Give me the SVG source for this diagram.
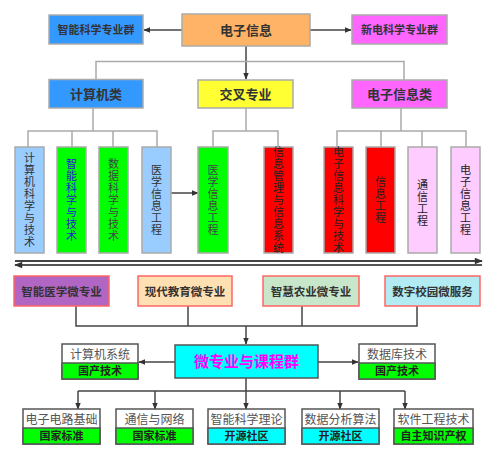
<svg xmlns="http://www.w3.org/2000/svg" width="497" height="459" viewBox="0 0 497 459">
<defs>
<marker id="ah" viewBox="0 0 10 10" refX="9" refY="5" markerWidth="7" markerHeight="7" markerUnits="userSpaceOnUse" orient="auto"><path d="M0,1 L10,5 L0,9 Z" fill="#333"/></marker>
<marker id="ahb" viewBox="0 0 10 10" refX="9" refY="5" markerWidth="10" markerHeight="8" markerUnits="userSpaceOnUse" orient="auto"><path d="M0,1 L10,5 L0,9 Z" fill="#333"/></marker>
</defs>
<style>
text{font-family:"Noto Sans CJK SC","Liberation Sans",sans-serif;}
.bx{stroke:#aaa;stroke-width:1.5;}
.mb{stroke:#ff6666;stroke-width:1.5;}
.cb{stroke:#555;stroke-width:1.5;}
.t1{font-size:11px;font-weight:bold;fill:#333;text-anchor:middle;}
.t2{font-size:13px;font-weight:bold;fill:#333;text-anchor:middle;}
.tv{font-size:11px;fill:#333;text-anchor:middle;writing-mode:vertical-rl;text-orientation:upright;letter-spacing:1px;}
.tm{font-size:11.5px;font-weight:bold;fill:#333;text-anchor:middle;}
.tc{font-size:12px;fill:#555;text-anchor:middle;}
.tl{font-size:11px;font-weight:bold;fill:#222;text-anchor:middle;}
.lg{fill:none;stroke:#aaa;stroke-width:1.5;}
.ld{fill:none;stroke:#444;stroke-width:1.5;}
</style>
<rect width="497" height="459" fill="#fff"/>
<g id="connectors">
<line class="ld" x1="182" y1="30" x2="144" y2="30" marker-end="url(#ah)"/>
<line class="ld" x1="310" y1="30" x2="351" y2="30" marker-end="url(#ah)"/>
<line class="ld" x1="246" y1="46" x2="246" y2="61"/>
<line class="ld" x1="246" y1="61" x2="246" y2="79" marker-end="url(#ah)"/>
<polyline class="lg" points="96,79 96,61.5 404,61.5 404,80"/>
<polyline class="lg" points="93,108 93,131"/>
<polyline class="lg" points="28,147 28,131 157,131 157,147"/>
<line class="lg" x1="72" y1="131" x2="72" y2="147"/>
<line class="lg" x1="113" y1="131" x2="113" y2="147"/>
<line class="lg" x1="246" y1="108" x2="246" y2="131"/>
<polyline class="lg" points="213,147 213,131 278,131 278,147"/>
<line class="lg" x1="401" y1="108" x2="401" y2="131"/>
<polyline class="lg" points="337,147 337,131 466,131 466,147"/>
<line class="lg" x1="381" y1="131" x2="381" y2="147"/>
<line class="lg" x1="422" y1="131" x2="422" y2="147"/>
<line class="ld" x1="171" y1="193" x2="198" y2="193" marker-end="url(#ah)"/>
<line x1="15" y1="261" x2="482" y2="261" stroke="#444" stroke-width="2" marker-end="url(#ahb)"/>
<line x1="482" y1="265" x2="15" y2="265" stroke="#555" stroke-width="2" marker-end="url(#ahb)"/>
<polyline class="ld" points="76,306 76,326 417,326 417,306"/>
<line class="ld" x1="188" y1="306" x2="188" y2="326"/>
<line class="ld" x1="302" y1="306" x2="302" y2="326"/>
<line class="ld" x1="246" y1="326" x2="246" y2="344" marker-end="url(#ah)"/>
<line class="ld" x1="175" y1="362" x2="139" y2="362" marker-end="url(#ah)"/>
<line class="ld" x1="318" y1="362" x2="358" y2="362" marker-end="url(#ah)"/>
<line class="ld" x1="246" y1="378" x2="246" y2="391"/>
<line class="ld" x1="78" y1="391" x2="405" y2="391"/>
<line class="ld" x1="78" y1="391" x2="78" y2="409" marker-end="url(#ah)"/>
<line class="ld" x1="155" y1="391" x2="155" y2="409" marker-end="url(#ah)"/>
<line class="ld" x1="246" y1="391" x2="246" y2="409" marker-end="url(#ah)"/>
<line class="ld" x1="340" y1="391" x2="340" y2="409" marker-end="url(#ah)"/>
<line class="ld" x1="405" y1="391" x2="405" y2="409" marker-end="url(#ah)"/>
</g>
<g id="n-znkx"><rect class="bx" x="49" y="15" width="94" height="29" fill="#3399ff"/><text class="t1" x="96" y="33.5">智能科学专业群</text></g>
<g id="n-dzxx"><rect class="bx" x="182" y="14" width="128" height="32" fill="#ffb366"/><text class="t2" x="246" y="34.5">电子信息</text></g>
<g id="n-xdkx"><rect class="bx" x="352" y="15" width="95" height="29" fill="#ff66ff"/><text class="t1" x="399.5" y="33.5">新电科学专业群</text></g>
<g id="n-jsjl"><rect class="bx" x="49" y="79.5" width="94" height="28.5" fill="#3399ff"/><text class="t2" x="96" y="98.5">计算机类</text></g>
<g id="n-jczy"><rect class="bx" x="198" y="80" width="95" height="28" fill="#ffff33"/><text class="t2" x="245.5" y="98.5">交叉专业</text></g>
<g id="n-dzxxl"><rect class="bx" x="352" y="80" width="95" height="28" fill="#ff66ff"/><text class="t2" x="399.5" y="98.5">电子信息类</text></g>
<g id="n-v1"><rect class="bx" x="15" y="147" width="29" height="106" fill="#99ccff"/><text class="tv" x="29.5" y="200">计算机科学与技术</text></g>
<g id="n-v2"><rect class="bx" x="57" y="147" width="29" height="106" fill="#00ff00"/><text class="tv" x="71.5" y="200" style="fill:#2222cc">智能科学与技术</text></g>
<g id="n-v3"><rect class="bx" x="99" y="147" width="29" height="106" fill="#00ff00"/><text class="tv" x="113.5" y="200" style="fill:#444">数据科学与技术</text></g>
<g id="n-v4"><rect class="bx" x="142" y="147" width="29" height="106" fill="#99ccff"/><text class="tv" x="156.5" y="200">医学信息工程</text></g>
<g id="n-v5"><rect class="bx" x="198" y="147" width="30" height="106" fill="#00ff00"/><text class="tv" x="213" y="200" style="fill:#444">医学信息工程</text></g>
<g id="n-v6"><rect class="bx" x="264" y="147" width="29" height="106" fill="#ff0000"/><text class="tv" x="278.5" y="200" style="fill:#222">信息管理与信息系统</text></g>
<g id="n-v7"><rect class="bx" x="324" y="147" width="29" height="106" fill="#ff0000"/><text class="tv" x="338.5" y="200" style="fill:#222">电子信息科学与技术</text></g>
<g id="n-v8"><rect class="bx" x="366" y="147" width="29" height="106" fill="#ff0000"/><text class="tv" x="380.5" y="200" style="fill:#222">信息工程</text></g>
<g id="n-v9"><rect class="bx" x="408" y="147" width="29" height="106" fill="#ffccff"/><text class="tv" x="422.5" y="203" style="fill:#222">通信工程</text></g>
<g id="n-v10"><rect class="bx" x="451" y="147" width="29" height="106" fill="#ffccff"/><text class="tv" x="465.5" y="200" style="fill:#222">电子信息工程</text></g>
<g id="n-m1"><rect class="mb" x="14" y="276" width="95" height="30" fill="#b266c4"/><text class="tm" x="61.5" y="295.5">智能医学微专业</text></g>
<g id="n-m2"><rect class="mb" x="138" y="276" width="94" height="30" fill="#ffe0b2"/><text class="tm" x="185" y="295.5">现代教育微专业</text></g>
<g id="n-m3"><rect class="mb" x="263" y="276" width="96" height="30" fill="#c8e6c9"/><text class="tm" x="311" y="295.5">智慧农业微专业</text></g>
<g id="n-m4"><rect class="mb" x="385" y="276" width="95" height="30" fill="#b2ebf2"/><text class="tm" x="432.5" y="295.5">数字校园微服务</text></g>
<g id="n-center"><rect class="cb" x="175" y="345" width="143" height="33" fill="#00ffff"/><text x="246.5" y="367" style="font-size:15px;font-weight:bold;fill:#ff00ff;text-anchor:middle">微专业与课程群</text></g>
<g id="n-c1"><rect x="62" y="344" width="76" height="35" fill="#fff" stroke="#555" stroke-width="1.5"/><rect x="62" y="363" width="76" height="16" fill="#00ff00" stroke="#555" stroke-width="1.5"/><text class="tc" x="100" y="359">计算机系统</text><text class="tl" x="100" y="375">国产技术</text></g>
<g id="n-c2"><rect x="359" y="344" width="76" height="35" fill="#fff" stroke="#555" stroke-width="1.5"/><rect x="359" y="363" width="76" height="16" fill="#00ff00" stroke="#555" stroke-width="1.5"/><text class="tc" x="397" y="359">数据库技术</text><text class="tl" x="397" y="375">国产技术</text></g>
<g id="n-b1"><rect x="23" y="409" width="77" height="35" fill="#fff" stroke="#555" stroke-width="1.5"/><rect x="23" y="428" width="77" height="16" fill="#00ff00" stroke="#555" stroke-width="1.5"/><text class="tc" x="61.5" y="424">电子电路基础</text><text class="tl" x="61.5" y="440">国家标准</text></g>
<g id="n-b2"><rect x="116" y="409" width="77" height="35" fill="#fff" stroke="#555" stroke-width="1.5"/><rect x="116" y="428" width="77" height="16" fill="#00ff00" stroke="#555" stroke-width="1.5"/><text class="tc" x="154.5" y="424">通信与网络</text><text class="tl" x="154.5" y="440">国家标准</text></g>
<g id="n-b3"><rect x="208" y="409" width="77" height="35" fill="#fff" stroke="#555" stroke-width="1.5"/><rect x="208" y="428" width="77" height="16" fill="#00ffff" stroke="#555" stroke-width="1.5"/><text class="tc" x="246.5" y="424">智能科学理论</text><text class="tl" x="246.5" y="440">开源社区</text></g>
<g id="n-b4"><rect x="302" y="409" width="77" height="35" fill="#fff" stroke="#555" stroke-width="1.5"/><rect x="302" y="428" width="77" height="16" fill="#00ffff" stroke="#555" stroke-width="1.5"/><text class="tc" x="340.5" y="424">数据分析算法</text><text class="tl" x="340.5" y="440">开源社区</text></g>
<g id="n-b5"><rect x="394" y="409" width="79" height="35" fill="#fff" stroke="#555" stroke-width="1.5"/><rect x="394" y="428" width="79" height="16" fill="#00ff00" stroke="#555" stroke-width="1.5"/><text class="tc" x="433.5" y="424">软件工程技术</text><text class="tl" x="433.5" y="440">自主知识产权</text></g>
</svg>
